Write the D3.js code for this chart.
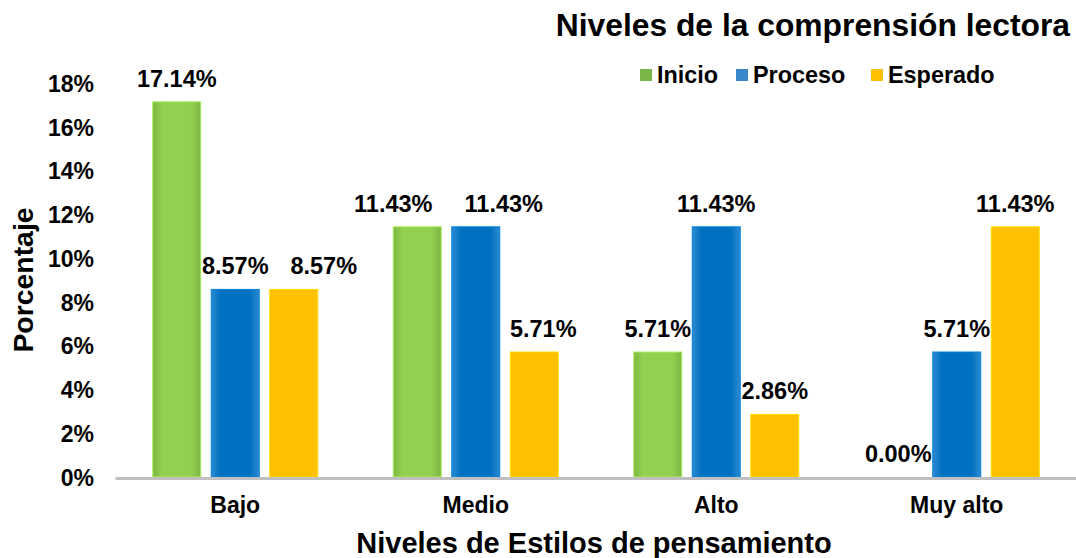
<!DOCTYPE html>
<html>
<head>
<meta charset="utf-8">
<script src="https://cdn.jsdelivr.net/npm/d3@7/dist/d3.min.js"></script>
<style>
  html, body { margin: 0; padding: 0; background: #ffffff; }
  svg { display: block; font-family: "Liberation Sans", Arial, sans-serif; font-weight: bold; }
</style>
</head>
<body>
<svg id="chart" width="1076" height="558"></svg>
<script>
const categories = ["Bajo", "Medio", "Alto", "Muy alto"];
const seriesNames = ["Inicio", "Proceso", "Esperado"];
const inicio = [17.14, 11.43, 5.71, 0.00];
const proceso = [8.57, 11.43, 11.43, 5.71];
const esperado = [8.57, 5.71, 2.86, 11.43];
const yTicks = [0, 2, 4, 6, 8, 10, 12, 14, 16, 18];
const titleText = "Niveles de la comprensión lectora";
const xTitle = "Niveles de Estilos de pensamiento";
const yTitle = "Porcentaje";

// styling / layout (not data)
const colors = ["#92d050", "#0070c0", "#ffc000"];
const edgeColors = ["#7db743", "#2d8bd0", "#ffc000"];
const legendColors = ["#7ab648", "#3a87cc", "#ffc000"];
// manual label nudges (px) per series per category, to avoid overlaps as in the original
const labelNudge = [[0, -24, 0, 0], [0, 28, 0, 0], [30, 9, 0, 0]];

const seriesValues = [inicio, proceso, esperado];

const svg = d3.select("#chart");
const defs = svg.append("defs");
colors.forEach((c, i) => {
  const g = defs.append("linearGradient").attr("id", "grad" + i)
    .attr("x1", "0%").attr("x2", "100%").attr("y1", "0%").attr("y2", "0%");
  g.append("stop").attr("offset", "0%").attr("stop-color", edgeColors[i]);
  g.append("stop").attr("offset", "20%").attr("stop-color", c);
  g.append("stop").attr("offset", "80%").attr("stop-color", c);
  g.append("stop").attr("offset", "100%").attr("stop-color", edgeColors[i]);
});

const x0 = d3.scaleBand().domain(categories).range([115, 1077]).paddingInner(0).paddingOuter(0);
const groupPad = 37.75;
const x1 = d3.scaleBand().domain(seriesNames)
  .range([groupPad, x0.bandwidth() - groupPad]).paddingInner(0.1795).paddingOuter(0);
const y = d3.scaleLinear().domain([0, 18]).range([477, 83]);

// Y axis tick labels
const yAxis = d3.axisLeft(y).tickValues(yTicks).tickFormat(d => d + "%").tickSize(0).tickPadding(0);
const yg = svg.append("g").attr("transform", "translate(94,0)").call(yAxis);
yg.select(".domain").remove();
yg.selectAll("text").attr("font-size", 23).attr("font-weight", "bold")
  .attr("font-family", "Liberation Sans, Arial, sans-serif").attr("fill", "#000").attr("dy", "0.36em");

// Bars
const groups = svg.append("g").selectAll("g").data(categories).join("g")
  .attr("transform", d => `translate(${x0(d)},0)`);
groups.each(function(cat, ci) {
  const g = d3.select(this);
  seriesNames.forEach((s, si) => {
    const v = seriesValues[si][ci];
    if (v > 0) {
      g.append("rect")
        .attr("x", x1(s)).attr("y", y(v))
        .attr("width", x1.bandwidth()).attr("height", y(0) - y(v))
        .attr("fill", `url(#grad${si})`)
        .attr("stroke", d3.color(colors[si]).brighter(0.4)).attr("stroke-width", 1);
    }
  });
});
groups.each(function(cat, ci) {
  const g = d3.select(this);
  seriesNames.forEach((s, si) => {
    const v = seriesValues[si][ci];
    g.append("text")
      .attr("x", x1(s) + x1.bandwidth() / 2 + labelNudge[si][ci])
      .attr("y", y(v) - 15)
      .attr("text-anchor", "middle")
      .attr("font-size", 23.5).attr("fill", "#000")
      .text(v.toFixed(2) + "%");
  });
});

// X axis
const xAxis = d3.axisBottom(x0).tickSize(0).tickPadding(0);
const xg = svg.append("g").attr("transform", "translate(0,478)").call(xAxis);
xg.select(".domain").attr("stroke", "#bfbfbf").attr("stroke-width", 3);
xg.selectAll("text").attr("font-size", 23).attr("font-weight", "bold")
  .attr("font-family", "Liberation Sans, Arial, sans-serif").attr("fill", "#000")
  .attr("dy", 0).attr("y", 35);

// Titles
svg.append("text").attr("x", 1070).attr("y", 36).attr("text-anchor", "end")
  .attr("font-size", 31.8).attr("fill", "#000").text(titleText);
svg.append("text").attr("x", 594).attr("y", 553).attr("text-anchor", "middle")
  .attr("font-size", 29).attr("fill", "#000").text(xTitle);
svg.append("text").attr("transform", "translate(33,280) rotate(-90)").attr("text-anchor", "middle")
  .attr("font-size", 28.4).attr("fill", "#000").text(yTitle);

// Legend
const legendX = [640, 736, 871];
const legend = svg.append("g");
seriesNames.forEach((s, i) => {
  legend.append("rect").attr("x", legendX[i]).attr("y", 69).attr("width", 12).attr("height", 12)
    .attr("fill", legendColors[i]);
  legend.append("text").attr("x", legendX[i] + 17).attr("y", 83)
    .attr("font-size", 23.4).attr("fill", "#000").text(s);
});
</script>
</body>
</html>
